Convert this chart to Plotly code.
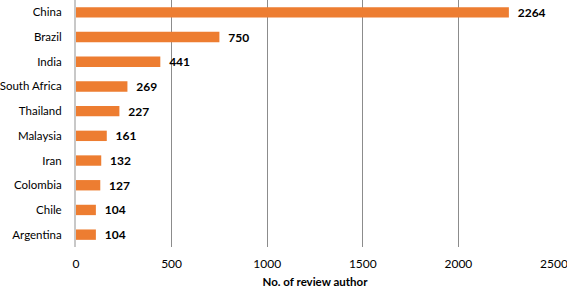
import plotly.graph_objects as go

countries = ["China", "Brazil", "India", "South Africa", "Thailand", "Malaysia", "Iran", "Colombia", "Chile", "Argentina"]
authors = [2264, 750, 441, 269, 227, 161, 132, 127, 104, 104]
tick_vals = [0, 500, 1000, 1500, 2000, 2500]

FONT = "Lato, Carlito, 'Open Sans', sans-serif"

fig = go.Figure(go.Bar(
    y=countries,
    x=authors,
    orientation="h",
    marker=dict(color="#ED7D31", line=dict(width=0)),
    width=0.42,
    text=[f"  {v}" for v in authors],
    textposition="outside",
    constraintext="none",
    textfont=dict(family=FONT, size=12, color="#000000", weight="bold"),
    cliponaxis=False,
))

fig.update_layout(
    width=567, height=288,
    margin=dict(l=76, r=13, t=0, b=41, autoexpand=False),
    plot_bgcolor="white", paper_bgcolor="white",
    showlegend=False,
    font=dict(family=FONT, size=12, color="#000000"),
)
fig.update_xaxes(
    range=[0, 2500],
    tickvals=tick_vals,
    showgrid=True, gridcolor="#8c8c8c", gridwidth=1,
    zeroline=False,
    showline=False,
    ticks="",
    automargin=False,
    ticklabeloverflow="allow",
    ticklabelstandoff=8,
    tickfont=dict(family=FONT, size=12, color="#000000"),
    title=dict(text="<b>No. of review author</b>", font=dict(family=FONT, size=11.5, color="#000000"), standoff=7),
)
fig.update_yaxes(
    categoryorder="array", categoryarray=countries[::-1],
    showline=True, linecolor="#c8c8c8", linewidth=2,
    showgrid=False, ticks="",
    automargin=False,
    ticklabelstandoff=10,
    tickfont=dict(family=FONT, size=11.5, color="#000000"),
)

fig.write_html("out.html", config={"displayModeBar": False},
               post_script="document.body.style.margin='0';")
